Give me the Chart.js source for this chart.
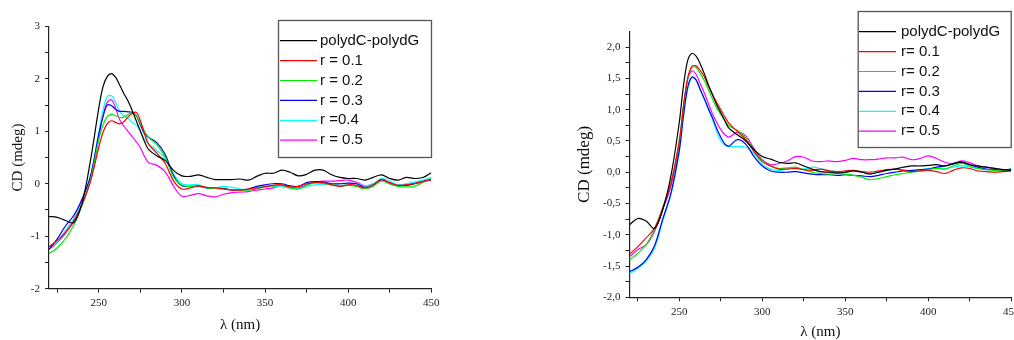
<!DOCTYPE html>
<html lang="en">
<head>
  <meta charset="UTF-8" />
  <title>CD spectra polydC-polydG</title>
  <script src="https://cdn.jsdelivr.net/npm/chart.js"></script>
  <style>
    body {
      margin: 0;
      background: #fff;
      width: 1014px;
      height: 340px;
      overflow: hidden;
      position: relative;
    }
    .panel {
      position: absolute;
      top: 0;
    }
    #left { left: 0; }
    #right { left: 540px; }
  </style>
</head>
<body>
  <div class="panel" id="left"><canvas id="chartLeft" width="470" height="340"></canvas></div>
  <div class="panel" id="right"><canvas id="chartRight" width="474" height="340"></canvas></div>

  <script>
    // wavelengths (nm), shared by both panels
    const wavelengths = [220, 225, 230, 235, 240, 245,
      250, 252.5, 255, 257.5, 260, 262.5, 265, 267.5, 270, 272.5, 275, 277.5,
      280, 285, 290, 295, 300, 305, 310, 315, 320, 325, 330, 335, 340, 345,
      350, 355, 360, 365, 370, 375, 380, 385, 390, 395, 400, 405, 410, 415,
      420, 425, 430, 435, 440, 445, 450];

    // left panel
    const leftLabels = ['polydC-polydG', 'r = 0.1', 'r = 0.2', 'r = 0.3', 'r =0.4', 'r = 0.5'];
    const leftDNA = [-0.62, -0.64, -0.70, -0.74, -0.35, 0.45,
      1.45, 1.85, 2.04, 2.10, 2.03, 1.88, 1.72, 1.58, 1.40, 1.20, 1.00, 0.80,
      0.65, 0.53, 0.44, 0.25, 0.15, 0.14, 0.17, 0.12, 0.08, 0.08, 0.08, 0.09, 0.07, 0.14,
      0.20, 0.20, 0.26, 0.22, 0.15, 0.18, 0.26, 0.26, 0.17, 0.12, 0.10, 0.10, 0.07, 0.12,
      0.17, 0.10, 0.07, 0.12, 0.10, 0.12, 0.21];
    const leftR01 = [-1.20, -1.08, -0.92, -0.70, -0.38, 0.05,
      0.70, 0.98, 1.14, 1.20, 1.17, 1.14, 1.18, 1.27, 1.34, 1.36, 1.20, 0.95,
      0.75, 0.58, 0.38, 0.05, -0.10, -0.08, -0.04, -0.07, -0.08, -0.10, -0.12, -0.12, -0.10, -0.08,
      -0.06, -0.03, -0.02, -0.06, -0.05, 0.00, 0.02, 0.02, -0.02, -0.05, -0.02, -0.03, -0.08, -0.02,
      0.08, 0.02, -0.03, -0.02, 0.00, 0.04, 0.08];
    const leftR02 = [-1.33, -1.22, -1.04, -0.78, -0.40, 0.08,
      0.85, 1.12, 1.28, 1.32, 1.30, 1.26, 1.27, 1.32, 1.35, 1.30, 1.15, 1.00,
      0.88, 0.74, 0.50, 0.12, -0.03, -0.05, -0.04, -0.08, -0.09, -0.10, -0.11, -0.12, -0.12, -0.10,
      -0.05, -0.04, -0.03, -0.08, -0.10, -0.03, 0.02, 0.00, -0.02, -0.04, -0.03, -0.05, -0.10, -0.05,
      0.05, 0.00, -0.05, -0.06, -0.05, 0.03, 0.10];
    const leftR03 = [-1.25, -1.05, -0.80, -0.60, -0.28, 0.15,
      0.95, 1.28, 1.50, 1.49, 1.42, 1.38, 1.38, 1.37, 1.36, 1.30, 1.12, 0.95,
      0.88, 0.78, 0.55, 0.15, -0.04, -0.05, -0.05, -0.08, -0.09, -0.09, -0.12, -0.12, -0.10, -0.05,
      -0.02, 0.00, 0.00, -0.04, -0.05, 0.02, 0.04, 0.03, 0.00, 0.00, 0.01, 0.00, -0.07, -0.03,
      0.08, 0.00, -0.04, -0.03, 0.00, 0.04, 0.09];
    const leftR04 = [-1.22, -1.10, -0.88, -0.66, -0.32, 0.15,
      1.00, 1.40, 1.66, 1.68, 1.55, 1.38, 1.30, 1.25, 1.17, 1.12, 1.00, 0.85,
      0.76, 0.63, 0.48, 0.18, 0.00, -0.02, -0.02, -0.08, -0.08, -0.05, -0.07, -0.10, -0.12, -0.08,
      -0.04, -0.05, -0.06, -0.08, -0.10, -0.05, -0.02, -0.01, -0.01, 0.00, -0.01, 0.00, -0.04, 0.00,
      0.10, 0.05, -0.02, 0.00, 0.03, 0.07, 0.12];
    const leftR05 = [-1.25, -1.12, -0.94, -0.72, -0.40, 0.08,
      0.88, 1.30, 1.55, 1.60, 1.45, 1.22, 1.10, 1.00, 0.90, 0.80, 0.68, 0.52,
      0.40, 0.35, 0.22, -0.05, -0.24, -0.22, -0.19, -0.23, -0.25, -0.20, -0.17, -0.16, -0.15, -0.12,
      -0.10, -0.08, -0.03, -0.06, -0.08, -0.02, 0.03, 0.05, 0.05, 0.06, 0.07, 0.03, -0.04, 0.00,
      0.08, 0.02, -0.02, -0.01, 0.02, 0.05, 0.07];

    // right panel
    const rightLabels = ['polydC-polydG', 'r= 0.1', 'r= 0.2', 'r= 0.3', 'r= 0.4', 'r= 0.5'];
    const rightDNA = [-0.84, -0.74, -0.78, -0.90, -0.60, -0.05,
      0.80, 1.38, 1.78, 1.90, 1.86, 1.74, 1.58, 1.40, 1.24, 1.08, 0.95, 0.82,
      0.70, 0.60, 0.50, 0.36, 0.25, 0.21, 0.16, 0.14, 0.15, 0.10, 0.05, 0.01, 0.00, -0.01,
      0.00, 0.02, 0.00, -0.03, 0.00, 0.03, 0.05, 0.08, 0.10, 0.10, 0.11, 0.12, 0.10, 0.14,
      0.16, 0.12, 0.10, 0.08, 0.06, 0.04, 0.03];
    const rightR01 = [-1.31, -1.19, -1.05, -0.90, -0.58, -0.18,
      0.50, 1.05, 1.50, 1.69, 1.70, 1.63, 1.53, 1.38, 1.24, 1.12, 1.00, 0.88,
      0.78, 0.65, 0.52, 0.33, 0.17, 0.10, 0.05, 0.05, 0.06, 0.04, 0.03, 0.05, 0.02, 0.01,
      0.02, 0.03, 0.01, 0.00, 0.02, 0.04, 0.05, 0.03, 0.01, 0.02, 0.03, 0.01, -0.02, 0.03,
      0.07, 0.06, 0.02, 0.01, 0.00, 0.01, 0.02];
    const rightR02 = [-1.40, -1.30, -1.16, -0.92, -0.56, -0.16,
      0.50, 1.05, 1.48, 1.67, 1.68, 1.58, 1.47, 1.32, 1.17, 1.03, 0.92, 0.82,
      0.74, 0.67, 0.55, 0.36, 0.19, 0.10, 0.06, 0.07, 0.08, 0.04, 0.00, -0.02, -0.03, -0.02,
      -0.03, -0.05, -0.08, -0.12, -0.10, -0.07, -0.04, -0.02, 0.00, 0.02, 0.04, 0.06, 0.05, 0.10,
      0.14, 0.10, 0.06, 0.04, 0.03, 0.02, 0.03];
    const rightR03 = [-1.59, -1.52, -1.40, -1.18, -0.75, -0.33,
      0.35, 0.90, 1.35, 1.52, 1.48, 1.33, 1.18, 1.02, 0.87, 0.70, 0.56, 0.45,
      0.42, 0.52, 0.45, 0.25, 0.10, 0.02, 0.00, 0.00, 0.01, -0.01, -0.03, -0.04, -0.04, -0.05,
      -0.04, -0.05, -0.06, -0.07, -0.05, -0.02, 0.00, 0.02, 0.03, 0.04, 0.05, 0.08, 0.10, 0.13,
      0.16, 0.12, 0.08, 0.05, 0.04, 0.03, 0.05];
    const rightR04 = [-1.62, -1.54, -1.42, -1.22, -0.78, -0.36,
      0.33, 0.88, 1.32, 1.51, 1.48, 1.32, 1.17, 1.00, 0.84, 0.65, 0.50, 0.43,
      0.41, 0.41, 0.40, 0.30, 0.13, 0.05, 0.03, 0.05, 0.07, 0.05, 0.08, 0.06, 0.03, 0.01,
      0.00, 0.02, 0.01, -0.02, 0.01, 0.03, 0.05, 0.04, 0.02, 0.04, 0.06, 0.07, 0.06, 0.08,
      0.10, 0.08, 0.06, 0.04, 0.05, 0.03, 0.06];
    const rightR05 = [-1.35, -1.24, -1.16, -0.95, -0.60, -0.22,
      0.45, 1.02, 1.48, 1.62, 1.57, 1.42, 1.27, 1.10, 0.93, 0.80, 0.68, 0.60,
      0.56, 0.64, 0.58, 0.38, 0.20, 0.12, 0.14, 0.18, 0.25, 0.24, 0.18, 0.17, 0.18, 0.17,
      0.19, 0.22, 0.20, 0.20, 0.21, 0.23, 0.23, 0.24, 0.20, 0.22, 0.26, 0.22, 0.16, 0.14,
      0.18, 0.15, 0.10, 0.08, 0.06, 0.04, 0.04];

    const seriesColors = ['#000000', '#ff0000', '#00ee00', '#0000ff', '#00ffff', '#ff00ff'];

    // tick positions
    const xTicks = [225, 250, 275, 300, 325, 350, 375, 400, 425, 450];
    const leftYTicks = [-2, -1.5, -1, -0.5, 0, 0.5, 1, 1.5, 2, 2.5, 3];
    const rightYTicks = [-2, -1.75, -1.5, -1.25, -1, -0.75, -0.5, -0.25, 0, 0.25, 0.5, 0.75,
      1, 1.25, 1.5, 1.75, 2];

    const serif = '"Liberation Serif", "Times New Roman", serif';
    const sans = '"Liberation Sans", Arial, sans-serif';

    // boxed legend drawn inside the plot, like the original Origin graphs
    const boxLegend = {
      id: 'boxLegend',
      afterDraw(chart, args, o) {
        const ctx = chart.ctx;
        ctx.save();
        ctx.fillStyle = '#fff';
        ctx.fillRect(o.x, o.y, o.w, o.h);
        ctx.strokeStyle = '#555';
        ctx.lineWidth = 1.3;
        ctx.strokeRect(o.x + 0.5, o.y + 0.5, o.w, o.h);
        ctx.font = '15px ' + sans;
        ctx.textBaseline = 'middle';
        ctx.textAlign = 'left';
        chart.data.datasets.forEach((ds, i) => {
          const y = o.row0 + i * o.rowGap;
          ctx.strokeStyle = ds.borderColor;
          ctx.lineWidth = 1.2;
          ctx.beginPath();
          ctx.moveTo(o.lineX0, y);
          ctx.lineTo(o.lineX1, y);
          ctx.stroke();
          ctx.fillStyle = '#111';
          ctx.fillText(ds.label, o.textX, y);
        });
        ctx.restore();
      }
    };

    function makeChart(id, labels, series, cfg) {
      const datasets = series.map((vals, i) => ({
        label: labels[i],
        data: wavelengths.map((w, j) => ({ x: w, y: vals[j] })),
        borderColor: seriesColors[i],
        borderWidth: 1.2,
        pointRadius: 0,
        tension: 0.35,
        fill: false
      }));

      const gridOpts = {
        drawOnChartArea: false,
        drawTicks: true,
        tickLength: 4,
        color: '#222',
        lineWidth: 1
      };

      return new Chart(document.getElementById(id), {
        type: 'line',
        data: { datasets },
        plugins: [boxLegend],
        options: {
          responsive: false,
          animation: false,
          events: [],
          layout: { padding: cfg.padding },
          plugins: {
            legend: { display: false },
            tooltip: { enabled: false },
            boxLegend: cfg.legend
          },
          scales: {
            x: {
              type: 'linear',
              min: 220,
              max: 450,
              afterBuildTicks: s => { s.ticks = xTicks.map(v => ({ value: v })); },
              afterFit: s => {
                s.height = cfg.xHeight;
                s.paddingLeft = 0;
                s.paddingRight = 0;
              },
              grid: gridOpts,
              border: { color: '#222', width: 1.2 },
              ticks: {
                autoSkip: false,
                maxRotation: 0,
                padding: 4,
                color: '#222',
                font: { family: serif, size: 11 },
                callback: v => (v % 50 === 0 ? String(v) : '')
              },
              title: {
                display: true,
                text: 'λ (nm)',
                color: '#111',
                font: { family: serif, size: 15, lineHeight: 1 },
                padding: { top: 0, bottom: cfg.xTitlePad }
              }
            },
            y: {
              type: 'linear',
              min: cfg.yMin,
              max: cfg.yMax,
              afterBuildTicks: s => { s.ticks = cfg.yTicks.map(v => ({ value: v })); },
              afterFit: s => {
                s.width = cfg.yWidth;
                s.paddingTop = 0;
                s.paddingBottom = 0;
              },
              grid: gridOpts,
              border: { color: '#222', width: 1.2 },
              ticks: {
                autoSkip: false,
                padding: 5,
                color: '#222',
                font: { family: serif, size: 11 },
                callback: cfg.yFormat
              },
              title: {
                display: true,
                text: 'CD (mdeg)',
                color: '#111',
                font: { family: serif, size: cfg.yTitleSize, lineHeight: 1 },
                padding: { top: cfg.yTitlePad, bottom: 0 }
              }
            }
          }
        }
      });
    }

    makeChart('chartLeft', leftLabels,
      [leftDNA, leftR01, leftR02, leftR03, leftR04, leftR05], {
        padding: { left: 0, top: 26.3, right: 38.7, bottom: 0 },
        xHeight: 51.3,
        yWidth: 49,
        yMin: -2,
        yMax: 3,
        yTicks: leftYTicks,
        yFormat: v => (Number.isInteger(v) ? String(v) : ''),
        xTitlePad: 7.5,
        yTitleSize: 15,
        yTitlePad: 11,
        legend: { x: 278, y: 20, w: 153, h: 137, row0: 40.7, rowGap: 19.9, lineX0: 280, lineX1: 317, textX: 320 }
      });

    makeChart('chartRight', rightLabels,
      [rightDNA, rightR01, rightR02, rightR03, rightR04, rightR05], {
        padding: { left: 0, top: 31.5, right: 2.7, bottom: 0 },
        xHeight: 42.7,
        yWidth: 89.5,
        yMin: -2,
        yMax: 2.25,
        yTicks: rightYTicks,
        yFormat: v => (Math.abs(v * 2 - Math.round(v * 2)) < 1e-9 ? v.toFixed(1).replace('.', ',') : ''),
        xTitlePad: 0,
        yTitleSize: 17,
        yTitlePad: 36.5,
        legend: { x: 317.7, y: 11, w: 153, h: 136, row0: 31.7, rowGap: 19.9, lineX0: 319, lineX1: 356, textX: 361 }
      });
  </script>
</body>
</html>
